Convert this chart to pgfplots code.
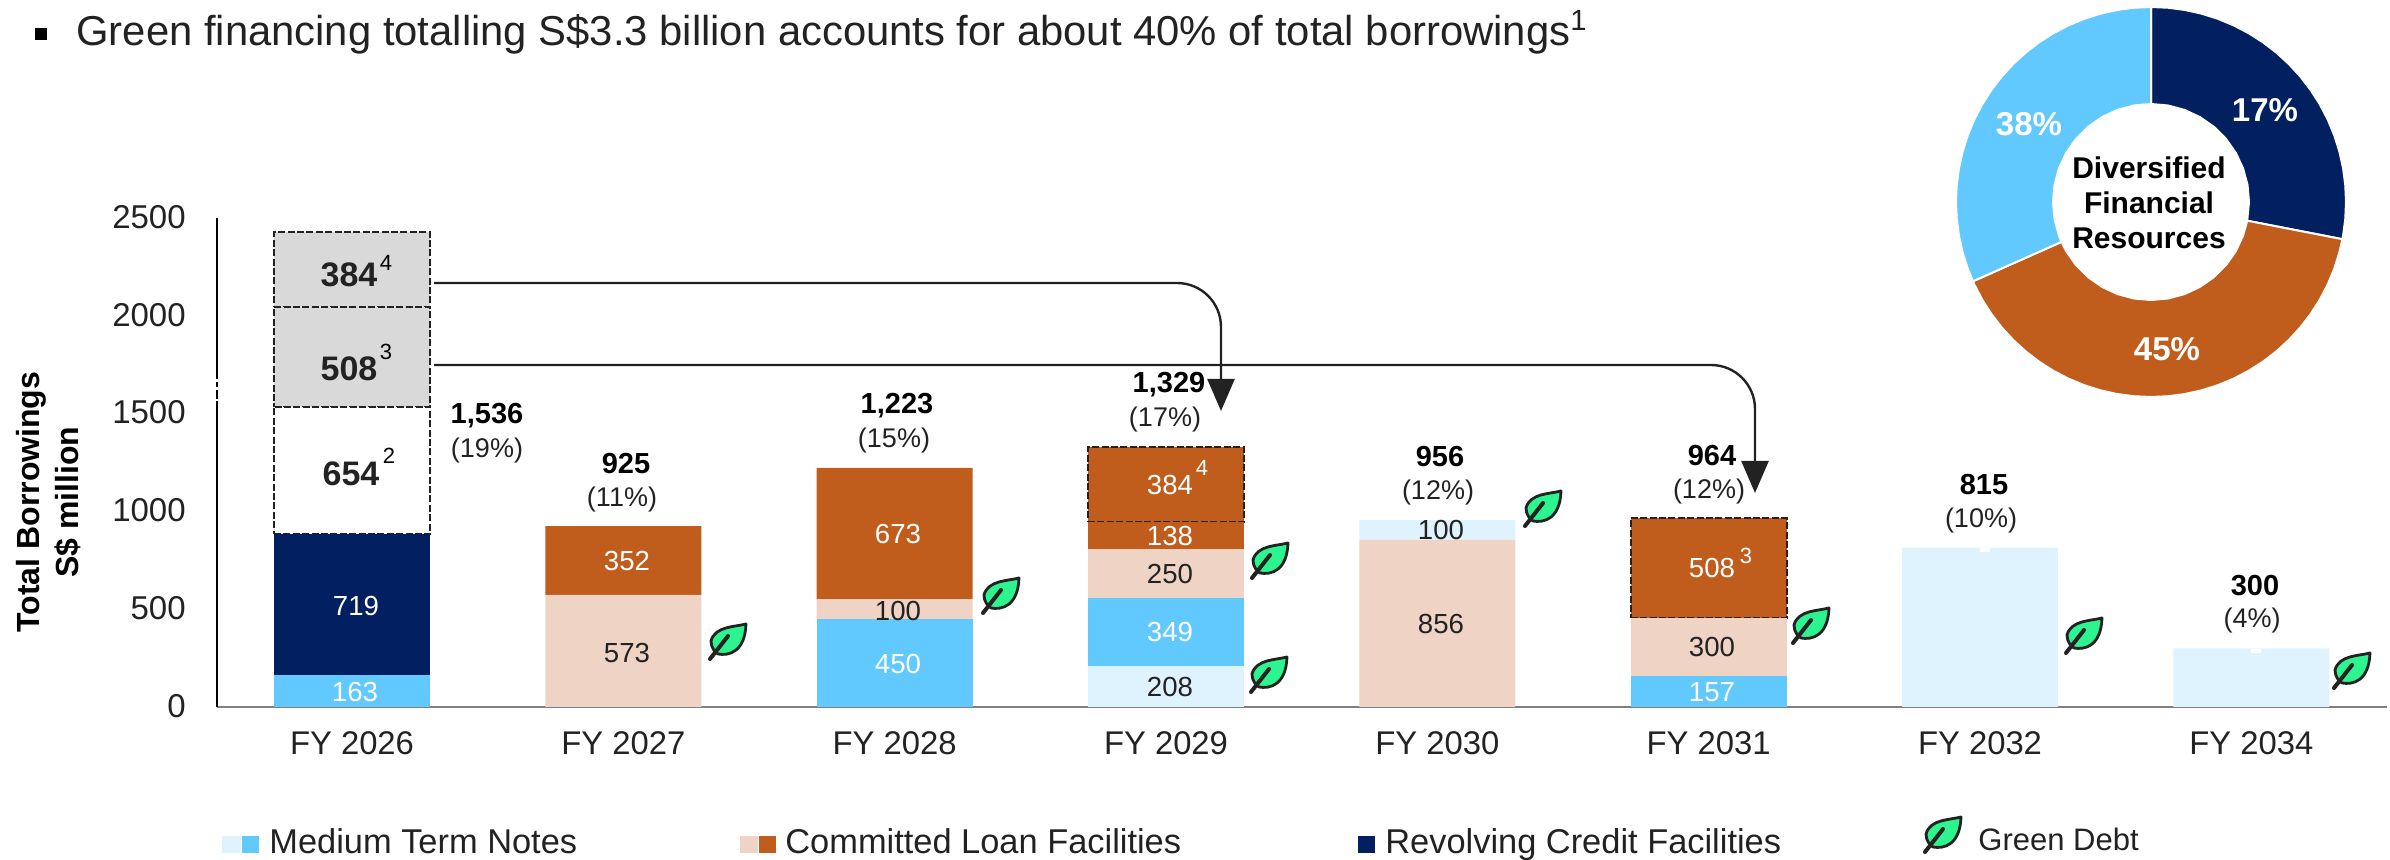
\documentclass[border=0pt]{standalone}
\usepackage{fontspec}
\setmainfont{Liberation Sans}
\usepackage{pgfplots}
\pgfplotsset{compat=1.18}
\usetikzlibrary{arrows.meta}

\definecolor{mtnlight}{HTML}{DFF3FF}
\definecolor{mtnmid}{HTML}{62C9FF}
\definecolor{clflight}{HTML}{EFD3C4}
\definecolor{clfdark}{HTML}{C05C1C}
\definecolor{rcf}{HTML}{02205F}
\definecolor{greybar}{HTML}{D9D9D9}
\definecolor{leafgreen}{HTML}{2CF58F}
\definecolor{ink}{HTML}{222222}

\pgfplotsset{
  sA/.style={fill=mtnlight,draw=none},
  sB/.style={fill=mtnmid,draw=none},
  sC/.style={fill=clflight,draw=none},
  sD/.style={fill=clfdark,draw=none},
  sE/.style={fill=rcf,draw=none},
  dash/.style={draw=ink,dash pattern=on 3.5pt off 1.2pt,line width=1pt},
  chartgeom/.style={
    at={(108.5pt,-353.5pt)},anchor=south west,
    scale only axis,width=1085pt,height=244.5pt,
    xmin=-0.4976,xmax=7.5,ymin=0,ymax=2500,
    ybar stacked,bar width=78pt,
  },
}
\tikzset{
  seg/.style={font=\fontsize{13.8}{16}\selectfont,inner sep=0pt,text=ink},
  segw/.style={font=\fontsize{13.8}{16}\selectfont,inner sep=0pt,text=white},
  segb/.style={font=\fontsize{17}{19}\selectfont\bfseries,inner sep=0pt,text=ink},
  tot/.style={font=\fontsize{14.5}{16}\selectfont\bfseries,inner sep=0pt,text=black},
  pct/.style={font=\fontsize{13.5}{16}\selectfont,inner sep=0pt,text=ink},
  sup/.style={font=\fontsize{11}{12}\selectfont,inner sep=0pt},
  leg/.style={font=\fontsize{17.2}{19}\selectfont,inner sep=0pt,anchor=base west,text=ink},
}
% leaf centred on a pixel position
\newcommand{\leaf}[2]{%
  \begin{scope}[shift={(#1,#2)}]
    \draw[ink,line width=1.4pt,fill=leafgreen,line join=round]
      (19,-18) .. controls (8,-15) and (-12,-16) .. (-16,-1)
      .. controls (-16,6) and (-12,10) .. (-9,12)
      .. controls (2,14) and (18,10) .. cycle;
    \draw[ink,line width=2pt,line cap=round] (-17,17) -- (1,-6);
  \end{scope}}

\begin{document}
\begin{tikzpicture}
\path[use as bounding box] (0pt,0pt) rectangle (1195pt,-430pt);

% columns without dashed parts: FY 2027, 2028, 2030, 2032, 2034
\begin{axis}[
  chartgeom,
  axis lines=left,axis line style={-},
  x axis line style={draw=gray,line width=0.8pt},
  y axis line style={draw=black,line width=0.8pt},
  xtick={0,...,7},
  xticklabels={FY 2026,FY 2027,FY 2028,FY 2029,FY 2030,FY 2031,FY 2032,FY 2034},
  ytick={0,500,1000,1500,2000,2500},
  tick style={draw=none},
  /pgf/number format/assume math mode=true,
  /pgf/number format/1000 sep={},
  xticklabel style={font=\fontsize{16.4}{18}\selectfont,text=ink,yshift=-6.5pt},
  yticklabel style={font=\fontsize{16.5}{18}\selectfont,text=ink,xshift=-10pt,yshift=0.5pt},
  ylabel={Total Borrowings\\S\$ million},
  every axis y label/.style={at={(axis description cs:-0.0775,0.419)},rotate=90,anchor=center,
    align=center,font=\fontsize{16}{19.5}\selectfont\bfseries},
]
\addplot[sB] coordinates {(1,0)(2,450)(4,0)(6,0)(7,0)};
\addplot[sC] coordinates {(1,573)(2,100)(4,856)(6,0)(7,0)};
\addplot[sD] coordinates {(1,352)(2,673)(4,0)(6,0)(7,0)};
\addplot[sA] coordinates {(1,0)(2,0)(4,100)(6,815)(7,300)};
\end{axis}

% FY 2026
\begin{axis}[chartgeom,hide axis]
\addplot[sB] coordinates {(0,163)};
\addplot[sE] coordinates {(0,719)};
\addplot[fill=white,dash] coordinates {(0,654)};
\addplot[fill=greybar,dash] coordinates {(0,508)};
\addplot[fill=greybar,dash] coordinates {(0,384)};
\end{axis}

% FY 2029
\begin{axis}[chartgeom,hide axis]
\addplot[sA] coordinates {(3,208)};
\addplot[sB] coordinates {(3,349)};
\addplot[sC] coordinates {(3,250)};
\addplot[sD] coordinates {(3,138)};
\addplot[fill=clfdark,dash] coordinates {(3,384)};
\end{axis}

% FY 2031
\begin{axis}[chartgeom,hide axis]
\addplot[sB] coordinates {(5,157)};
\addplot[sC] coordinates {(5,300)};
\addplot[fill=clfdark,dash] coordinates {(5,508)};
\end{axis}

% donut, wedges
\begin{axis}[
  at={(1075.5pt,-101pt)},anchor=center,
  scale only axis,width=200pt,height=200pt,hide axis,
  xmin=-200,xmax=200,ymin=-200,ymax=200,
]
\addplot[fill=rcf,draw=white,line width=1pt,data cs=polar] coordinates {
  (90,195)(85,195)(80,195)(75,195)(70,195)(65,195)(60,195)(55,195)(50,195)(45,195)(40,195)(35,195)
  (30,195)(25,195)(20,195)(15,195)(10,195)(5,195)(0,195)(-5,195)(-10,195)(-11,195)
  (-11,98)(0,98)(10,98)(20,98)(30,98)(40,98)(50,98)(60,98)(70,98)(80,98)(90,98)} --cycle;
\addplot[fill=clfdark,draw=white,line width=1pt,data cs=polar] coordinates {
  (-11,195)(-15,195)(-20,195)(-25,195)(-30,195)(-35,195)(-40,195)(-45,195)(-50,195)(-55,195)
  (-60,195)(-65,195)(-70,195)(-75,195)(-80,195)(-85,195)(-90,195)(-95,195)(-100,195)(-105,195)
  (-110,195)(-115,195)(-120,195)(-125,195)(-130,195)(-135,195)(-140,195)(-145,195)(-150,195)
  (-155,195)(-156,195)
  (-156,98)(-150,98)(-140,98)(-130,98)(-120,98)(-110,98)(-100,98)(-90,98)(-80,98)(-70,98)
  (-60,98)(-50,98)(-40,98)(-30,98)(-20,98)(-11,98)} --cycle;
\addplot[fill=mtnmid,draw=white,line width=1pt,data cs=polar] coordinates {
  (-156,195)(-160,195)(-165,195)(-170,195)(-175,195)(-180,195)(-185,195)(-190,195)(-195,195)
  (-200,195)(-205,195)(-210,195)(-215,195)(-220,195)(-225,195)(-230,195)(-235,195)(-240,195)
  (-245,195)(-250,195)(-255,195)(-260,195)(-265,195)(-270,195)
  (-270,98)(-260,98)(-250,98)(-240,98)(-230,98)(-220,98)(-210,98)(-200,98)(-190,98)(-180,98)
  (-170,98)(-160,98)(-156,98)} --cycle;
\end{axis}

\begin{scope}[x=0.5pt,y=-0.5pt]
% small breaks in the original artwork
\fill[white] (213,379.3) rectangle (221,381.7);
\fill[white] (213,387.3) rectangle (221,390);
\fill[white] (213,399.3) rectangle (221,400.7);
\fill[white] (1980,548) rectangle (1990,552);
\fill[white] (2251,649) rectangle (2261,653);

% title line
\fill[black] (35,28) rectangle (47,40);
\node[anchor=base west,inner sep=0pt,font=\fontsize{20.9}{23}\selectfont,text=ink] at (76,46)
  {Green financing totalling S\$3.3 billion accounts for about 40\% of total borrowings\textsuperscript{1}};

% donut text
\node[font=\fontsize{16.5}{18}\selectfont\bfseries,text=white,inner sep=0pt] at (2265,110) {17\%};
\node[font=\fontsize{16.5}{18}\selectfont\bfseries,text=white,inner sep=0pt] at (2029,124) {38\%};
\node[font=\fontsize{16.5}{18}\selectfont\bfseries,text=white,inner sep=0pt] at (2167,349) {45\%};
\node[font=\fontsize{15}{17.5}\selectfont\bfseries,text=black,align=center,inner sep=0pt] at (2149,203)
  {Diversified\\Financial\\Resources};

% segment labels
\node[segw] at (355,692) {163};
\node[segw] at (356,606) {719};
\node[segb] at (351,474) {654}; \node[sup] at (389,456) {2};
\node[segb] at (349,369) {508}; \node[sup] at (386,352) {3};
\node[segb] at (349,275) {384}; \node[sup] at (386,263) {4};
\node[segw] at (627,561) {352};
\node[seg]  at (627,653) {573};
\node[segw] at (898,534) {673};
\node[seg]  at (898,611) {100};
\node[segw] at (898,664) {450};
\node[segw] at (1170,485) {384}; \node[sup,text=white] at (1202,468) {4};
\node[segw] at (1170,536) {138};
\node[seg]  at (1170,574) {250};
\node[segw] at (1170,632) {349};
\node[seg]  at (1170,687) {208};
\node[seg]  at (1441,530) {100};
\node[seg]  at (1441,624) {856};
\node[segw] at (1712,568) {508}; \node[sup,text=white] at (1746,556) {3};
\node[seg]  at (1712,647) {300};
\node[segw] at (1712,692) {157};

% totals
\node[tot] at (487,416) {1,536};  \node[pct] at (487,451) {(19\%)};
\node[tot] at (626,464) {925};    \node[pct] at (622,500) {(11\%)};
\node[tot] at (897,406) {1,223};  \node[pct] at (894,441) {(15\%)};
\node[tot] at (1169,385) {1,329}; \node[pct] at (1165,420) {(17\%)};
\node[tot] at (1440,457) {956};   \node[pct] at (1438,493) {(12\%)};
\node[tot] at (1712,456) {964};   \node[pct] at (1709,492) {(12\%)};
\node[tot] at (1984,485) {815};   \node[pct] at (1981,521) {(10\%)};
\node[tot] at (2255,586) {300};   \node[pct] at (2252,621) {(4\%)};

% refinancing arrows
\draw[ink,line width=1.2pt,rounded corners=22pt,-{Triangle[length=16pt,width=13.5pt]}]
  (434,283) -- (1221,283) -- (1221,411);
\draw[ink,line width=1.2pt,rounded corners=22pt,-{Triangle[length=16pt,width=13.5pt]}]
  (434,365) -- (1755,365) -- (1755,493);

% green debt leaves
\leaf{727}{642}
\leaf{1000}{596}
\leaf{1269}{561}
\leaf{1268}{675}
\leaf{1542}{509}
\leaf{1810}{626}
\leaf{2083}{636}
\leaf{2351}{671}

% legend
\fill[mtnlight] (222,836) rectangle (241,853);
\fill[mtnmid] (242,836) rectangle (259,853);
\node[leg] at (269,854) {Medium Term Notes};
\fill[clflight] (740,836) rectangle (758,853);
\fill[clfdark] (759,836) rectangle (776,853);
\node[leg] at (785,854) {Committed Loan Facilities};
\fill[rcf] (1358,836) rectangle (1375,853);
\node[leg] at (1385,854) {Revolving Credit Facilities};
\leaf{1942}{835}
\node[leg,font=\fontsize{15.5}{17}\selectfont] at (1978,850) {Green Debt};
\end{scope}
\end{tikzpicture}
\end{document}
